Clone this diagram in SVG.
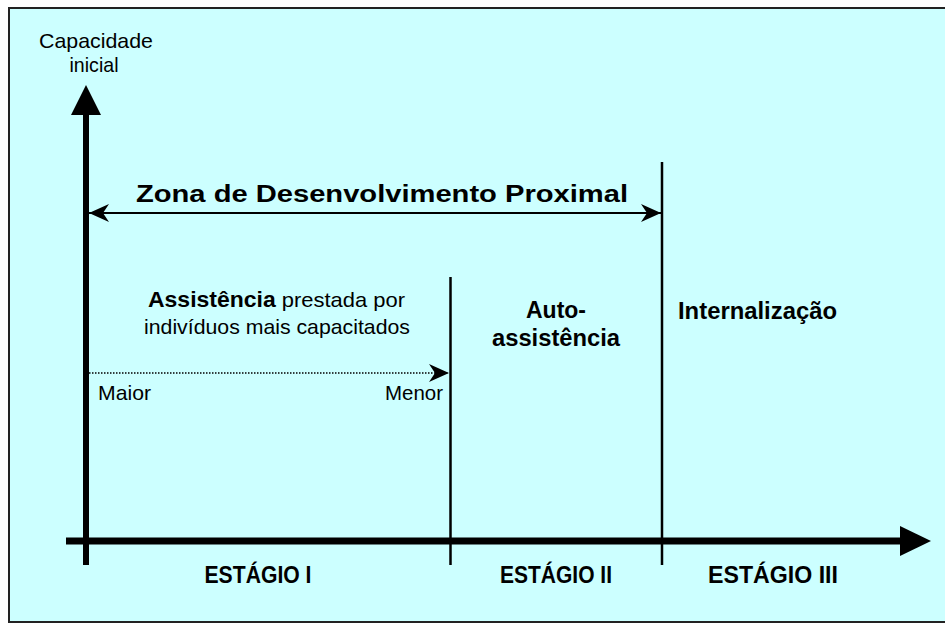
<svg xmlns="http://www.w3.org/2000/svg" width="945" height="624" viewBox="0 0 945 624">
<style>
.r{font-family:"Liberation Sans",Arial,sans-serif;fill:#000;font-size:21px}
.b{font-family:"Liberation Sans",Arial,sans-serif;fill:#000;font-weight:bold;font-size:23px}
.ln{stroke:#000;fill:none}
</style>
<defs>
<marker id="ah" viewBox="0 0 20 18" refX="20" refY="9" markerWidth="20" markerHeight="18" markerUnits="userSpaceOnUse" orient="auto-start-reverse">
<path d="M0,0 L20,9 L0,18 L6,9 Z" fill="#000"/>
</marker>
</defs>
<rect x="9" y="8" width="950" height="614" fill="#CCFFFF" stroke="#222" stroke-width="2"/>
<g id="connectors">
<line class="ln" x1="86" y1="112" x2="86" y2="565" stroke-width="6"/>
<polygon points="86,85 101,115 71,115" fill="#000"/>
<line class="ln" x1="66" y1="541" x2="903" y2="541" stroke-width="7"/>
<polygon points="931,541 900,526 900,556" fill="#000"/>
<line class="ln" x1="450.5" y1="277" x2="450.5" y2="565" stroke-width="2.5"/>
<line class="ln" x1="662" y1="162" x2="662" y2="565" stroke-width="2.5"/>
<line class="ln" x1="89" y1="213" x2="661" y2="213" stroke-width="2" marker-start="url(#ah)" marker-end="url(#ah)"/>
<line class="ln" x1="89" y1="373" x2="449" y2="373" stroke-width="1.5" stroke-dasharray="1.5,1.5" marker-end="url(#ah)"/>
</g>
<g id="y-axis-label">
<text class="r" x="96" y="48" text-anchor="middle" textLength="114" lengthAdjust="spacingAndGlyphs">Capacidade</text>
<text class="r" x="94" y="72" text-anchor="middle" textLength="49" lengthAdjust="spacingAndGlyphs">inicial</text>
</g>
<g id="zdp">
<text class="b" x="382" y="202" text-anchor="middle" font-size="29.5" textLength="492" lengthAdjust="spacingAndGlyphs">Zona de Desenvolvimento Proximal</text>
</g>
<g id="assistencia">
<text class="r" x="148" y="307" textLength="257" lengthAdjust="spacingAndGlyphs"><tspan font-weight="bold" font-size="22">Assistência</tspan> prestada por</text>
<text class="r" x="144" y="334" textLength="266" lengthAdjust="spacingAndGlyphs">indivíduos mais capacitados</text>
<text class="r" x="98" y="400" textLength="53" lengthAdjust="spacingAndGlyphs">Maior</text>
<text class="r" x="385" y="400" textLength="58" lengthAdjust="spacingAndGlyphs">Menor</text>
</g>
<g id="auto">
<text class="b" x="556" y="318" text-anchor="middle">Auto-</text>
<text class="b" x="556" y="346" text-anchor="middle" textLength="128" lengthAdjust="spacingAndGlyphs">assistência</text>
</g>
<g id="internalizacao">
<text class="b" x="678" y="319" textLength="159" lengthAdjust="spacingAndGlyphs">Internalização</text>
</g>
<g id="estagios">
<text class="b" x="258" y="583" text-anchor="middle" font-size="20.5" textLength="107" lengthAdjust="spacingAndGlyphs">ESTÁGIO I</text>
<text class="b" x="556" y="583" text-anchor="middle" font-size="20.5" textLength="112" lengthAdjust="spacingAndGlyphs">ESTÁGIO II</text>
<text class="b" x="773" y="583" text-anchor="middle" font-size="20.5" textLength="130" lengthAdjust="spacingAndGlyphs">ESTÁGIO III</text>
</g>
</svg>
